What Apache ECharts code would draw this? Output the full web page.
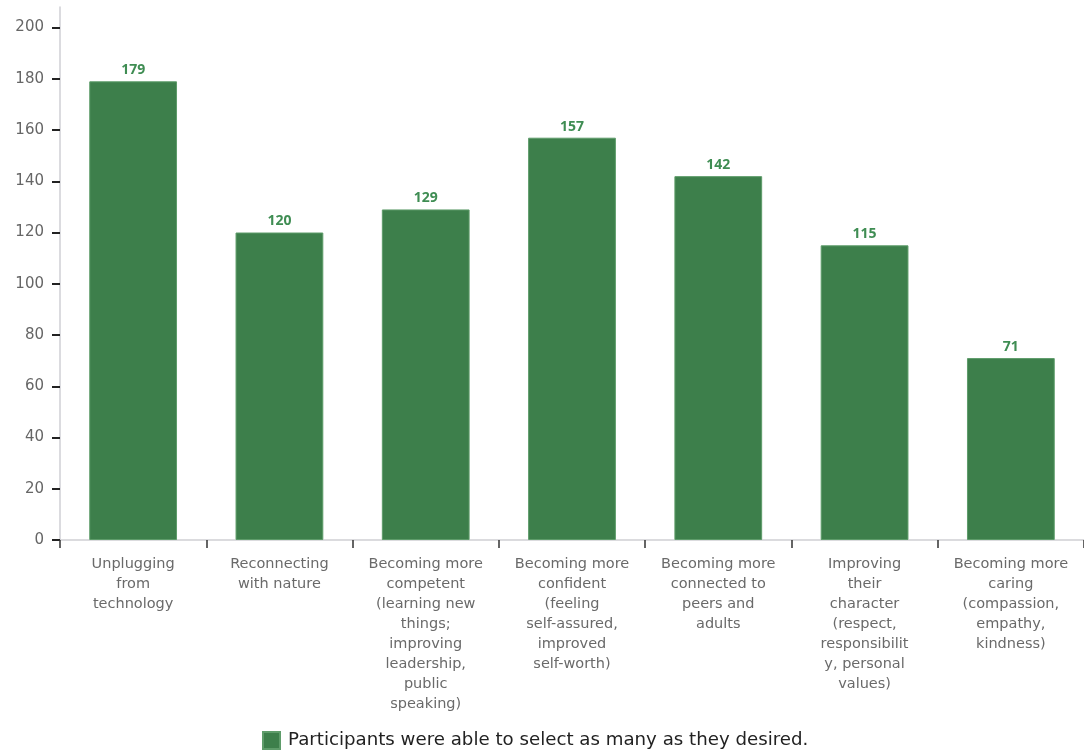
<!DOCTYPE html>
<html>
<head>
<meta charset="utf-8">
<script src="https://cdn.jsdelivr.net/npm/echarts@6/dist/echarts.min.js"></script>
<style>
html,body{margin:0;padding:0;background:#fff;}
#chart{width:1084px;height:755px;}
</style>
</head>
<body>
<div id="chart"></div>
<script>
var categories = [
  "Unplugging\nfrom\ntechnology",
  "Reconnecting\nwith nature",
  "Becoming more\ncompetent\n(learning new\nthings;\nimproving\nleadership,\npublic\nspeaking)",
  "Becoming more\nconfident\n(feeling\nself-assured,\nimproved\nself-worth)",
  "Becoming more\nconnected to\npeers and\nadults",
  "Improving\ntheir\ncharacter\n(respect,\nresponsibilit\ny, personal\nvalues)",
  "Becoming more\ncaring\n(compassion,\nempathy,\nkindness)"
];
var values = [179, 120, 129, 157, 142, 115, 71];
var yTicks = [0, 20, 40, 60, 80, 100, 120, 140, 160, 180, 200];
var seriesName = "Participants were able to select as many as they desired.";

var chart = echarts.init(document.getElementById('chart'));
chart.setOption({
  animation: false,
  textStyle: { fontFamily: "'DejaVu Sans', sans-serif" },
  grid: { left: 60, right: -6, top: 7, bottom: 215, containLabel: false },
  legend: {
    bottom: 0,
    left: 257,
    itemWidth: 17,
    itemHeight: 17,
    itemGap: 8,
    icon: 'rect',
    textStyle: { fontSize: 18.2, color: '#222', padding: [0, 0, 0, 3], fontFamily: "'DejaVu Sans', sans-serif" },
    data: [seriesName]
  },
  xAxis: {
    type: 'category',
    data: categories,
    axisLine: { lineStyle: { color: '#cfcfd4', width: 1.5 } },
    axisTick: { show: true, length: 8, alignWithLabel: false, lineStyle: { color: '#333', width: 1.5 } },
    axisLabel: {
      interval: 0,
      color: '#6a6a6a',
      fontSize: 14.5,
      lineHeight: 20,
      margin: 14,
      align: 'center',
      fontFamily: "'DejaVu Sans', sans-serif"
    }
  },
  yAxis: {
    type: 'value',
    min: 0,
    max: 208,
    interval: 20,
    splitLine: { show: false },
    axisLine: { show: true, lineStyle: { color: '#cfcfd4', width: 1.5 } },
    axisTick: { show: true, length: 8, customValues: yTicks, lineStyle: { color: '#222', width: 2 } },
    axisLabel: { color: '#666', fontSize: 15, margin: 16, customValues: yTicks, fontFamily: "'DejaVu Sans', sans-serif" }
  },
  series: [{
    name: seriesName,
    type: 'bar',
    data: values,
    barWidth: '60%',
    itemStyle: { color: '#3d7f4b', borderColor: '#5e9c6a', borderWidth: 1 },
    label: {
      show: true,
      position: 'top',
      distance: 4,
      color: '#3f8d53',
      fontSize: 14,
      fontWeight: 'bold',
      fontFamily: "'Noto Sans', sans-serif"
    }
  }]
});
</script>
</body>
</html>
